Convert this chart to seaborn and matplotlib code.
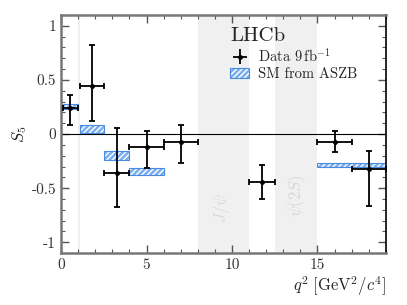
import numpy as np
import matplotlib
matplotlib.use("Agg")
import matplotlib.pyplot as plt
import seaborn as sns
from matplotlib.patches import Patch

# q2 bins and measured S5
bin_lo = [0.1, 1.1, 2.5, 4.0, 6.0, 11.0, 15.0, 17.0]
bin_hi = [0.98, 2.5, 4.0, 6.0, 8.0, 12.5, 17.0, 19.0]
s5 = [0.24, 0.44, -0.36, -0.12, -0.07, -0.44, -0.07, -0.32]
err_up = [0.12, 0.38, 0.42, 0.15, 0.15, 0.15, 0.10, 0.16]
err_dn = [0.16, 0.32, 0.31, 0.19, 0.20, 0.16, 0.10, 0.34]

# SM prediction (ASZB) bands
sm_lo = [0.1, 1.1, 2.5, 4.0, 15.0]
sm_hi = [0.98, 2.5, 4.0, 6.0, 19.0]
sm_min = [0.23, 0.01, -0.24, -0.38, -0.30]
sm_max = [0.28, 0.08, -0.16, -0.31, -0.27]

sns.set_theme(style="ticks")
plt.rcParams["font.family"] = ["cmr10", "DejaVu Serif"]
plt.rcParams["mathtext.fontset"] = "cm"
plt.rcParams["axes.formatter.use_mathtext"] = True

fig = plt.figure(figsize=(4.07, 3.05), dpi=100)
ax = fig.add_axes([0.150, 0.170, 0.798, 0.781])

# vetoed regions
ax.axvspan(0.98, 1.1, color="#f0f0f0", lw=0, zorder=0)
ax.axvspan(8.0, 11.0, color="#f0f0f0", lw=0, zorder=0)
ax.axvspan(12.5, 15.0, color="#f0f0f0", lw=0, zorder=0)
ax.text(9.4, -0.68, r"$J/\psi$", rotation=90, color="#d8d8d8", fontsize=12,
        ha="center", va="center")
ax.text(13.8, -0.57, r"$\psi(2S)$", rotation=90, color="#d8d8d8", fontsize=12,
        ha="center", va="center")

ax.axhline(0, color="black", lw=0.8, zorder=1)

lo = np.array(sm_lo); hi = np.array(sm_hi)
ax.bar(lo, np.array(sm_max) - np.array(sm_min), width=hi - lo, bottom=sm_min,
       align="edge", color="#7aaef0", edgecolor="white", hatch="//////", lw=0, zorder=2)
ax.bar(lo, np.array(sm_max) - np.array(sm_min), width=hi - lo, bottom=sm_min,
       align="edge", fill=False, edgecolor="#4a8ae0", lw=0.8, zorder=2)

blo = np.array(bin_lo); bhi = np.array(bin_hi)
xc = (blo + bhi) / 2
ax.errorbar(xc, s5, xerr=[xc - blo, bhi - xc], yerr=[err_dn, err_up],
            fmt="o", ms=2.5, color="black", ecolor="black", elinewidth=1.3,
            capsize=2.5, capthick=1.3, zorder=3)
# legend proxy: plain cross, no caps
data_handle = ax.errorbar([np.nan], [np.nan], xerr=[1], yerr=[1], fmt="o", ms=2.5,
                          color="black", elinewidth=1.3, capsize=0)

ax.set_xlim(0, 19)
ax.set_ylim(-1.1, 1.1)
ax.set_xticks([0, 5, 10, 15])
ax.set_xticklabels(["0", "5", "10", "15"])
ax.set_yticks([-1, -0.5, 0, 0.5, 1])
ax.set_yticklabels(["-1", "-0.5", "0", "0.5", "1"])
ax.set_xticks(np.arange(0, 19.1, 1), minor=True)
ax.set_yticks(np.arange(-1.1, 1.11, 0.1), minor=True)
ax.tick_params(which="both", direction="in", top=True, right=True,
               labelsize=11, labelcolor="#333333", color="#555555")
ax.tick_params(which="major", length=6, width=1.0)
ax.tick_params(which="minor", length=3, width=0.8)
for side in ["left", "bottom", "top"]:
    ax.spines[side].set_color("#777777")
    ax.spines[side].set_linewidth(1.8)
ax.spines["right"].set_color("black")
ax.spines["right"].set_linewidth(1.2)

ax.set_ylabel(r"$S_5$", fontsize=12, labelpad=2)
ax.set_xlabel(r"$q^2\;[\mathrm{GeV}^2/c^4]$", fontsize=12, loc="right", labelpad=2)

sm_handle = (Patch(facecolor="#7aaef0", edgecolor="white", hatch="//////", lw=0),
             Patch(fill=False, edgecolor="#4a8ae0", lw=0.8))
leg = ax.legend([data_handle, sm_handle], [r"Data $9\,\mathrm{fb}^{-1}$", "SM from ASZB"],
                title="LHCb", loc="upper left", bbox_to_anchor=(0.49, 0.99),
                frameon=False, fontsize=10.5, title_fontsize=15,
                handlelength=1.3, handletextpad=0.6, labelspacing=0.2,
                borderpad=0.2)
leg._legend_box.align = "left"
leg._legend_box.sep = 1

fig.savefig("out.png", dpi=100)
